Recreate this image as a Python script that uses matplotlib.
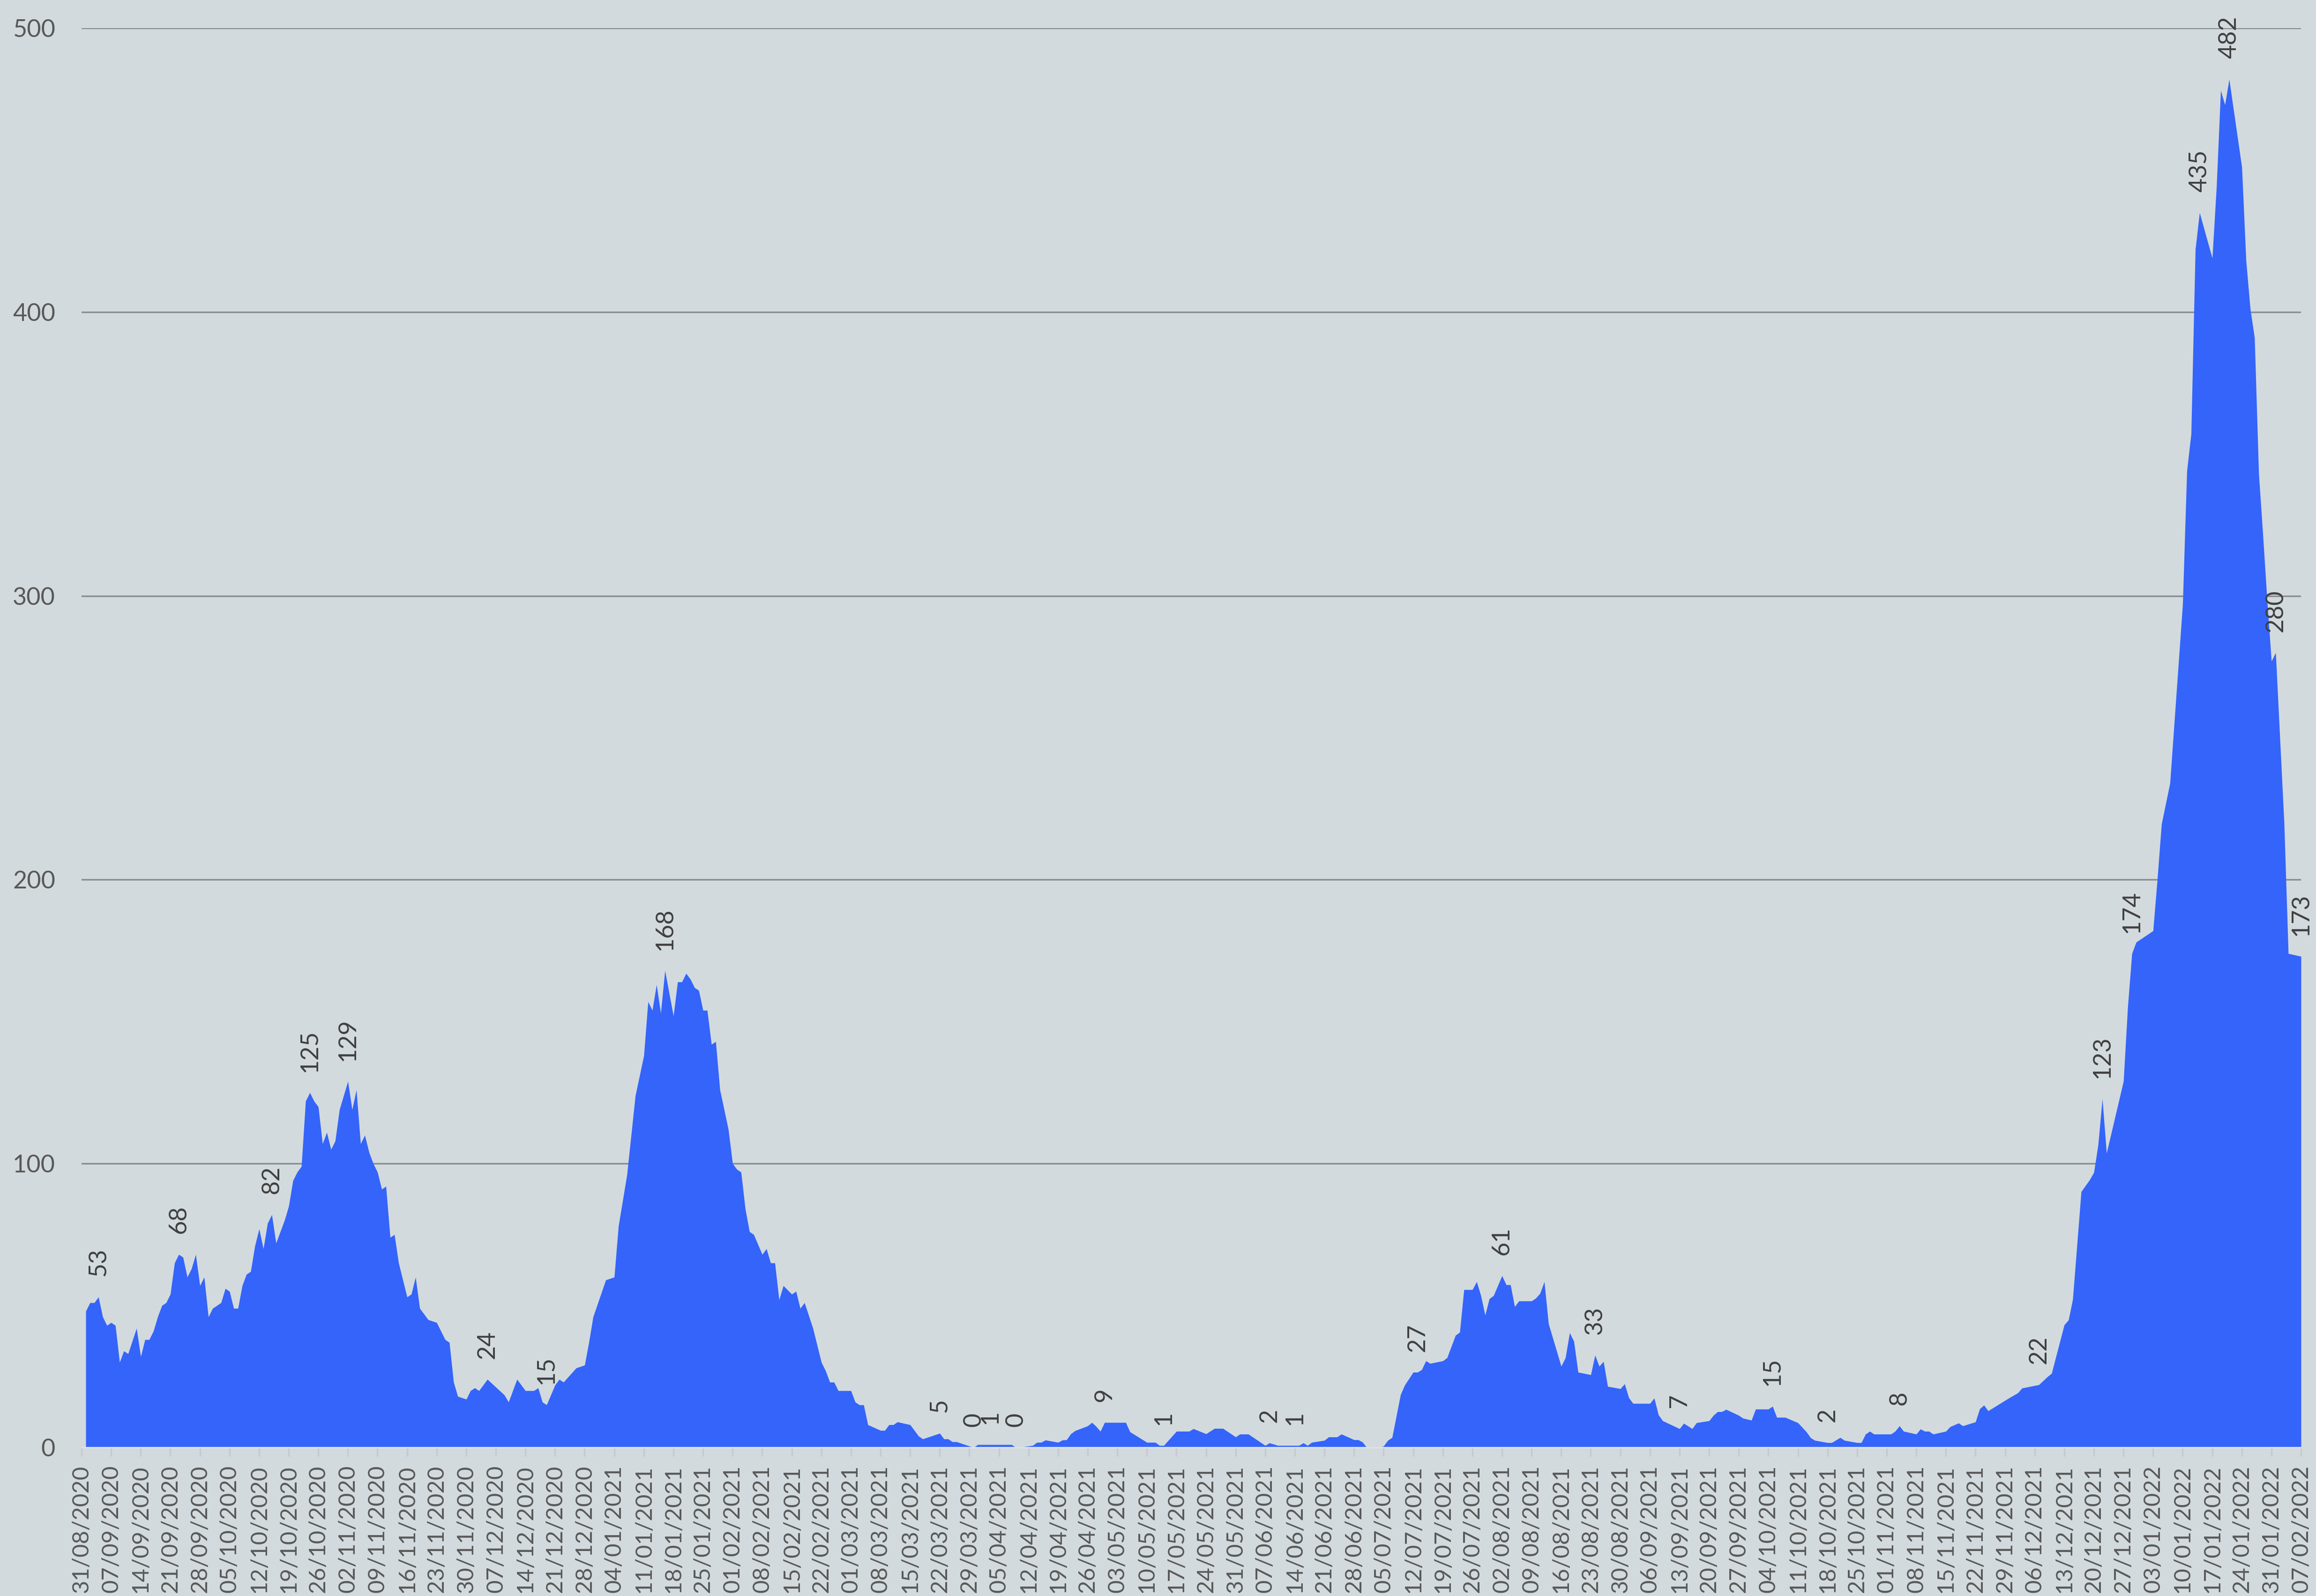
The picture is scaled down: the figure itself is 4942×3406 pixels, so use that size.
import matplotlib
matplotlib.use("Agg")
import matplotlib.pyplot as plt
import numpy as np
import pandas as pd

# ---------------- data ----------------
start_date = "2020-08-31"

day_index = [
    1, 2, 3, 4, 5, 6, 7, 8, 9, 10, 11, 13, 14, 15, 16, 17, 18, 19, 20, 21, 22, 23, 24, 25, 26, 27, 28, 29, 30,
    31, 32, 33, 34, 35, 36, 37, 38, 39, 40, 41, 42, 43, 44, 45, 46, 47, 48, 49, 50, 51, 52, 53, 54, 55, 56,
    57, 58, 59, 60, 61, 62, 63, 64, 65, 66, 67, 68, 69, 70, 71, 72, 73, 74, 75, 76, 77, 78, 79, 80, 82, 84,
    85, 86, 87, 88, 89, 91, 92, 93, 94, 96, 100, 101, 103, 105, 107, 108, 109, 110, 112, 113, 114, 117, 119,
    120, 121, 124, 126, 127, 129, 131, 133, 134, 135, 136, 137, 138, 140, 141, 142, 143, 144, 145, 146, 147,
    148, 149, 150, 151, 152, 153, 154, 155, 156, 157, 158, 159, 161, 162, 163, 164, 165, 166, 168, 169, 170,
    171, 173, 175, 176, 177, 178, 179, 182, 183, 184, 185, 186, 189, 190, 191, 192, 193, 196, 198, 199, 203,
    204, 205, 206, 207, 210, 211, 212, 215, 220, 221, 222, 223, 225, 226, 227, 228, 231, 232, 233, 234, 235,
    238, 239, 240, 241, 242, 247, 248, 252, 254, 255, 256, 259, 262, 263, 266, 268, 270, 273, 274, 276, 280,
    281, 283, 287, 288, 289, 290, 291, 294, 295, 297, 298, 300, 301, 302, 303, 304, 307, 308, 309, 310, 312,
    313, 315, 316, 317, 318, 319, 322, 323, 325, 326, 327, 329, 330, 331, 332, 333, 334, 335, 336, 337, 338,
    339, 340, 343, 344, 345, 346, 347, 350, 351, 352, 353, 354, 357, 358, 359, 360, 361, 364, 365, 366, 367,
    371, 372, 373, 374, 378, 379, 381, 382, 385, 386, 387, 388, 389, 392, 393, 395, 396, 399, 400, 401, 403,
    406, 408, 409, 410, 413, 414, 416, 417, 420, 421, 422, 423, 424, 428, 429, 430, 431, 434, 435, 436, 437,
    438, 441, 442, 444, 445, 448, 449, 450, 451, 456, 458, 459, 463, 465, 466, 469, 470, 471, 473, 475, 476,
    477, 478, 479, 483, 484, 485, 486, 490, 491, 492, 494, 497, 498, 499, 500, 501, 504, 505, 506, 507, 508,
    511, 512, 513, 514, 515, 516, 517, 518, 519, 520, 521, 522, 525,
]

values = [
    48, 51, 51, 53, 46, 43, 44, 43, 30, 34, 33, 42, 32, 38, 38, 41, 46, 50, 51, 54, 65, 68, 67, 60, 63, 68, 57, 60, 46,
    49, 50, 51, 56, 55, 49, 49, 57, 61, 62, 71, 77, 70, 79, 82, 72, 76, 80, 85, 94, 97, 99, 122, 125, 122, 120,
    107, 111, 105, 108, 119, 124, 129, 119, 126, 107, 110, 104, 100, 97, 91, 92, 74, 75, 65, 59, 53, 54, 60, 49, 45, 44,
    41, 38, 37, 23, 18, 17, 20, 21, 20, 24, 18.5, 16, 24, 20, 20, 21, 16, 15, 22, 24, 23, 28, 29,
    37, 46, 59, 60, 78, 96, 124, 138, 157, 154, 163, 153, 168, 152, 164, 164, 167, 165, 162, 161, 154,
    154, 142, 143, 126, 119, 112, 100, 98, 97, 84, 76, 75, 68, 70, 65, 65, 52, 57, 54, 55, 49,
    51, 42, 30, 27, 23, 23, 20, 20, 16, 15, 15, 8, 6, 6, 8, 8, 9, 8, 4, 3, 5,
    3, 3, 2, 2, 0.5, 0, 1, 1, 1, 0, 0, 0.3, 0.7, 1.8, 1.8, 2.6, 1.8, 2.6, 2.7, 4.8, 5.9,
    7.6, 8.8, 7.4, 5.7, 8.8, 8.8, 5.5, 1.8, 1.8, 0.7, 0.7, 5.7, 5.7, 6.6, 4.8, 6.7, 6.7, 3.7, 4.7, 4.7, 0.7,
    1.6, 0.7, 0.7, 0.7, 1.6, 0.7, 1.8, 2.5, 3.7, 3.7, 4.7, 3.4, 2.7, 2.7, 1.9, 0, 0, 0.5, 2.5, 3.5, 18.6,
    22, 26.5, 26.5, 27.4, 30.5, 29.6, 30.5, 31.6, 39.5, 40.6, 55.6, 55.6, 58.4, 53.5, 46.6, 52.4, 53.5, 57, 60.5, 57.3, 57.3,
    49.6, 51.6, 51.6, 52.6, 54.3, 58.4, 43.6, 28.6, 31.6, 40.4, 37.4, 26.5, 25.6, 32.5, 28.6, 30.3, 21.5, 20.7, 22.4, 17.5, 15.5,
    15.5, 17.4, 11.5, 9.4, 6.6, 8.5, 6.6, 8.7, 9.4, 11.3, 12.6, 12.6, 13.4, 11.3, 10.3, 9.6, 13.5, 13.5, 14.5, 10.6, 10.6,
    8.7, 5.5, 3.4, 2.5, 1.7, 1.7, 3.5, 2.5, 1.7, 1.7, 4.7, 5.7, 4.7, 4.7, 5.7, 7.6, 5.7, 4.7, 6.5, 5.7, 5.7,
    4.7, 5.7, 7.3, 8.6, 7.6, 9, 13.6, 14.9, 12.9, 17.5, 19.2, 20.9, 22.1, 24.9, 26.1, 43.2, 44.9, 52.2, 90.1, 94.3, 96.9,
    106.6, 122.8, 103.7, 129, 155, 174, 178, 182, 200, 219.6, 234, 297, 344, 357, 422, 435, 419, 444, 478, 473, 482,
    451, 418, 401, 391, 343, 321, 298, 277, 280, 250, 220, 174, 173,
]

label_days = [4, 23, 45, 54, 63, 96, 110, 138, 203, 211, 215, 221, 242, 256, 281, 287, 316, 336, 358,
              378, 400, 413, 430, 463, 478, 485, 501, 508, 519, 525]
label_texts = ["53", "68", "82", "125", "129", "24", "15", "168", "5", "0", "1", "0", "9", "1", "2", "1",
               "27", "61", "33", "7", "15", "2", "8", "22", "123", "174", "435", "482", "280", "173"]

y_ticks = [0, 100, 200, 300, 400, 500]

tick_dates = pd.date_range("2020-08-31", "2022-02-07", freq="7D")
tick_labels = [d.strftime("%d/%m/%Y") for d in tick_dates]
tick_days = [(d - pd.Timestamp(start_date)).days for d in tick_dates]

# ---------------- style ----------------
BG = "#D2DADE"
AREA = "#3464FA"
GRID = "#8A8C8E"
TICKTXT = "#595959"
LABELTXT = "#404040"
FONT = ["Lato", "DejaVu Sans"]

plt.rcParams["font.family"] = FONT

W, H, DPI = 4942, 3406, 300
fig = plt.figure(figsize=(W / DPI, H / DPI), dpi=DPI, facecolor=BG)
ax = fig.add_axes([174 / W, 1 - 3089 / H, (4910 - 174) / W, (3089 - 60) / H])
ax.set_facecolor(BG)

for yv in y_ticks[1:]:
    ax.axhline(yv, color=GRID, linewidth=0.8, zorder=1)

ax.fill_between(day_index, values, 0, color=AREA, linewidth=0, zorder=2)

ax.set_xlim(tick_days[0], tick_days[-1])
ax.set_ylim(0, 500)

ax.set_xticks(tick_days)
ax.set_xticklabels(tick_labels, rotation=90, fontsize=11.8, color=TICKTXT)
ax.tick_params(axis="x", direction="out", length=4.5, width=0.8, color="#C4CACE", pad=4.5)

ax.set_yticks(y_ticks)
ax.set_yticklabels([str(v) for v in y_ticks], fontsize=12.5, color=TICKTXT)
ax.tick_params(axis="y", length=0, pad=13.4)

for s in ["top", "right", "left"]:
    ax.spines[s].set_visible(False)
ax.spines["bottom"].set_color("#DDE2E6")
ax.spines["bottom"].set_linewidth(0.8)
ax.spines["bottom"].set_zorder(3)

for d, t in zip(label_days, label_texts):
    yv = float(np.interp(d, day_index, values))
    ax.annotate(t, xy=(d, yv), xytext=(0, 10.5), textcoords="offset points",
                rotation=90, ha="center", va="bottom", fontsize=12.5,
                color=LABELTXT, zorder=4)

fig.savefig("out.png", dpi=DPI, facecolor=BG)
